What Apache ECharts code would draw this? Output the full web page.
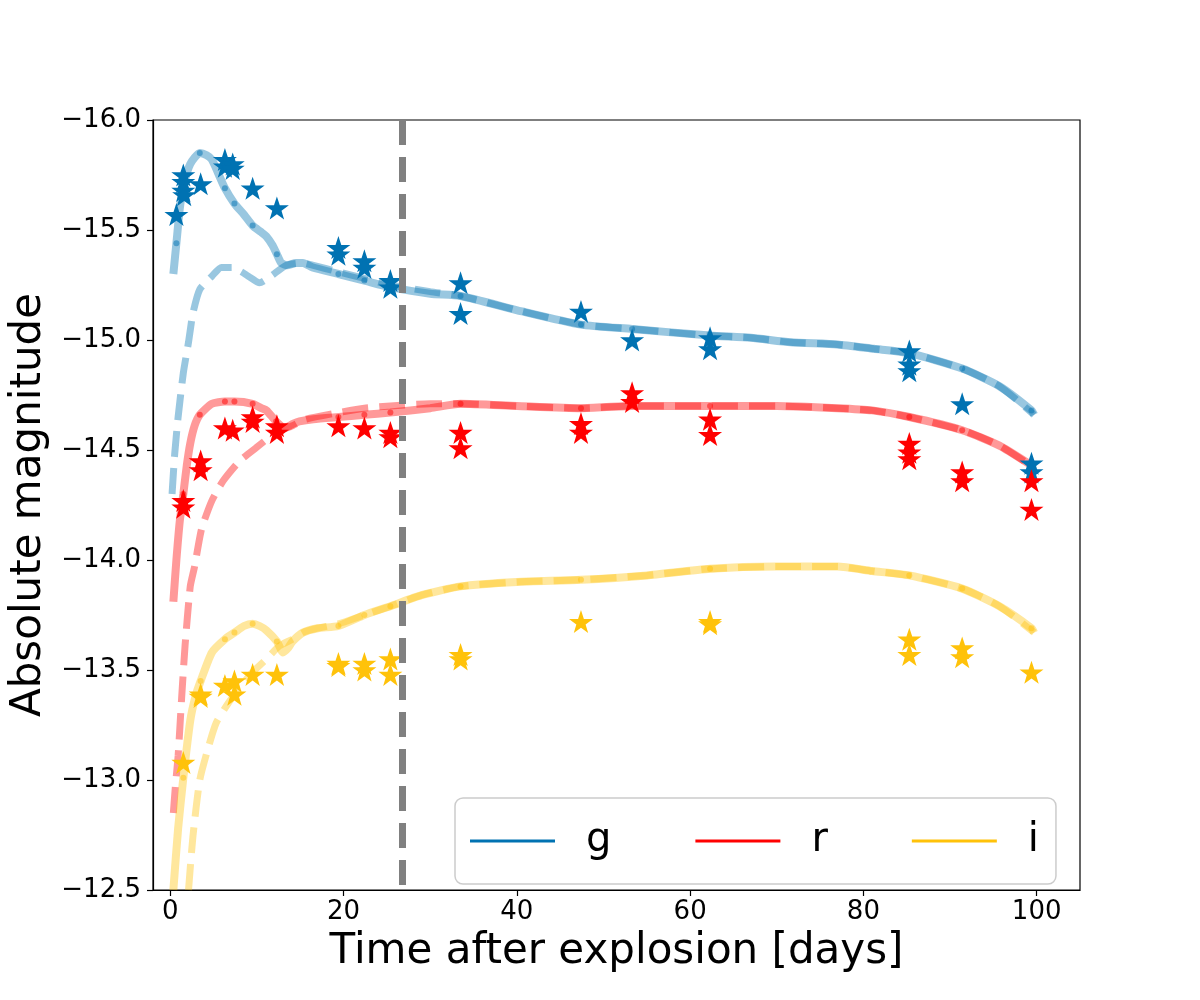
<!DOCTYPE html>
<html>
<head>
<meta charset="utf-8">
<script src="https://cdn.jsdelivr.net/npm/echarts@6/dist/echarts.min.js"></script>
<style>
  html, body { margin: 0; padding: 0; background: #fff; }
  #chart { width: 1200px; height: 1000px; }
</style>
</head>
<body>
<div id="chart"></div>
<script>
// tick values
var xTicks = [0, 20, 40, 60, 80, 100];
var yMin = -16.0, yMax = -12.5, yStep = 0.5;
var tCut = 26.8; // grey dashed vertical line

// observed photometry [day, mag]
var gObs = [[0.7,-15.57],[1.5,-15.75],[1.5,-15.72],[1.5,-15.68],[1.6,-15.66],[3.5,-15.71],
  [6.3,-15.82],[6.3,-15.79],[7.2,-15.80],[7.2,-15.78],[9.5,-15.69],[12.3,-15.60],
  [19.4,-15.42],[19.4,-15.39],[22.4,-15.36],[22.4,-15.33],[25.4,-15.27],[25.4,-15.24],
  [33.5,-15.26],[33.5,-15.12],[47.4,-15.13],[53.3,-15.00],[62.3,-15.01],[62.3,-14.96],
  [85.3,-14.95],[85.3,-14.89],[85.3,-14.86],[91.4,-14.71],[99.4,-14.44],[99.4,-14.40]];
var rObs = [[1.5,-14.27],[1.5,-14.24],[3.5,-14.45],[3.5,-14.41],[6.3,-14.60],[7.2,-14.59],
  [9.5,-14.65],[9.5,-14.63],[12.3,-14.61],[12.3,-14.58],[19.4,-14.61],[22.4,-14.60],
  [25.4,-14.58],[25.4,-14.56],[33.5,-14.58],[33.5,-14.51],[47.4,-14.62],[47.4,-14.58],
  [53.3,-14.76],[53.3,-14.72],[62.3,-14.64],[62.3,-14.57],[85.3,-14.53],[85.3,-14.49],
  [85.3,-14.46],[91.4,-14.40],[91.4,-14.36],[99.4,-14.36],[99.4,-14.23]];
var iObs = [[1.5,-13.08],[3.5,-13.39],[3.5,-13.38],[6.3,-13.43],[7.4,-13.45],[7.4,-13.39],
  [9.5,-13.48],[12.3,-13.48],[19.4,-13.53],[19.4,-13.52],[22.4,-13.53],[22.4,-13.50],
  [25.4,-13.55],[25.4,-13.48],[33.5,-13.57],[33.5,-13.55],[47.4,-13.72],[62.3,-13.72],
  [62.3,-13.71],[85.3,-13.64],[85.3,-13.57],[91.4,-13.60],[91.4,-13.56],[99.4,-13.49]];

// model curves [day, mag, dot?]  (solid = model A, dashed = model B)
var gSolid = [[0.35,-15.30,0],[0.7,-15.44,1],[1.1,-15.60,0],[1.5,-15.70,1],[2.3,-15.80,0],
  [3.4,-15.85,1],[4.2,-15.84,0],[4.8,-15.82,0],[5.5,-15.76,0],[6.3,-15.69,1],[7.4,-15.62,1],
  [8.5,-15.57,0],[9.5,-15.52,1],[10.5,-15.49,0],[11.1,-15.47,0],[11.8,-15.43,0],[12.3,-15.39,1],
  [12.8,-15.35,0],[13.5,-15.34,0],[14.5,-15.35,0],[15.3,-15.35,0],[16.4,-15.33,0],
  [19.4,-15.30,1],[22.4,-15.27,1],[25.4,-15.24,1],[30,-15.21,0],[33.5,-15.20,1],[40.6,-15.13,0],
  [47.4,-15.07,1],[53.3,-15.05,1],[62.3,-15.02,1],[67,-15.01,0],[71.6,-14.99,0],[77,-14.98,0],
  [81.2,-14.96,0],[85.3,-14.94,1],[91.4,-14.87,1],[95.7,-14.79,0],[99.4,-14.68,1],[99.7,-14.66,0]];
var gDashed = [[0.2,-14.30],[0.5,-14.48],[0.9,-14.65],[1.5,-14.85],[2.1,-14.99],[2.6,-15.12],
  [3.4,-15.23],[4.8,-15.29],[5.9,-15.33],[7.2,-15.33],[8.2,-15.31],[9.0,-15.29],[10.3,-15.26],
  [11.6,-15.29],[13.4,-15.34],[15.3,-15.35],[16.4,-15.34],[19.4,-15.31],[22.4,-15.28],
  [25.4,-15.25],[30,-15.22],[33.5,-15.20],[40.6,-15.13],[47.4,-15.07],[53.3,-15.05],
  [62.3,-15.02],[67,-15.01],[71.6,-14.99],[77,-14.98],[81.2,-14.96],[85.3,-14.94],
  [91.4,-14.87],[95.7,-14.79],[99.7,-14.66]];
var rSolid = [[0.35,-13.81,0],[0.7,-14.00,0],[1.1,-14.18,0],[1.5,-14.30,1],[1.9,-14.43,0],
  [2.3,-14.53,0],[2.8,-14.61,0],[3.4,-14.66,1],[4.8,-14.71,0],[6.3,-14.72,1],[7.4,-14.72,1],
  [9.5,-14.71,1],[10.5,-14.69,0],[11.1,-14.68,0],[12.2,-14.63,1],[13.2,-14.60,0],[14.2,-14.62,0],
  [14.9,-14.63,0],[16.5,-14.64,0],[19.4,-14.65,1],[22.4,-14.66,1],[25.4,-14.67,1],[30,-14.69,0],
  [33.5,-14.71,1],[40,-14.70,0],[47.4,-14.69,1],[53.3,-14.70,1],[62.3,-14.70,1],[70,-14.70,0],
  [77,-14.69,0],[81,-14.68,0],[85.3,-14.65,1],[91.4,-14.59,1],[95.7,-14.52,0],[99.4,-14.43,1],
  [99.7,-14.42,0]];
var rDashed = [[0.35,-12.85],[0.6,-12.98],[0.9,-13.11],[1.3,-13.37],[1.7,-13.61],[2.3,-13.88],
  [2.8,-13.97],[3.6,-14.14],[4.8,-14.27],[6.1,-14.36],[8.0,-14.45],[9.9,-14.51],[12.2,-14.58],
  [14.1,-14.61],[15.6,-14.64],[19.4,-14.67],[22.4,-14.69],[25.4,-14.70],[30,-14.71],
  [33.5,-14.71],[40,-14.70],[47.4,-14.69],[53.3,-14.70],[62.3,-14.70],[70,-14.70],[77,-14.69],
  [81,-14.68],[85.3,-14.65],[91.4,-14.59],[95.7,-14.52],[99.7,-14.42]];
var iSolid = [[0.35,-12.50,0],[0.9,-12.78,0],[1.5,-13.01,1],[2.3,-13.27,0],[2.9,-13.38,0],
  [3.5,-13.45,1],[4.8,-13.58,0],[6.3,-13.64,1],[7.4,-13.67,1],[8.5,-13.70,0],[9.5,-13.71,1],
  [10.3,-13.70,0],[11.1,-13.68,0],[12.3,-13.63,1],[13.0,-13.58,0],[13.6,-13.60,0],[14.1,-13.63,0],
  [15.3,-13.67,0],[17,-13.69,0],[19.4,-13.70,1],[22.4,-13.75,1],[25.4,-13.79,1],[29,-13.84,0],
  [33.5,-13.88,1],[40,-13.90,0],[47.4,-13.91,1],[55,-13.93,0],[62.3,-13.96,1],[70,-13.97,0],
  [77,-13.97,0],[81,-13.95,0],[85.3,-13.93,1],[91.4,-13.87,1],[95.7,-13.79,0],[99.4,-13.69,1],
  [99.7,-13.67,0]];
var iDashed = [[2.1,-12.50],[2.6,-12.74],[3.4,-13.00],[4.4,-13.15],[5.3,-13.26],[6.7,-13.35],
  [8.0,-13.42],[9.5,-13.49],[11.1,-13.55],[12.6,-13.61],[14.1,-13.64],[15.3,-13.67],[17,-13.69],
  [19.4,-13.71],[22.4,-13.75],[25.4,-13.79],[29,-13.84],[33.5,-13.88],[40,-13.90],[47.4,-13.91],
  [55,-13.93],[62.3,-13.96],[70,-13.97],[77,-13.97],[81,-13.95],[85.3,-13.93],[91.4,-13.87],
  [95.7,-13.79],[99.7,-13.67]];

var bands = ['g', 'r', 'i'];
var colors = { g: '#0072b2', r: '#ff0000', i: '#ffc20a' };
var starPath = 'path://M50,0 L61.8,35.1 L98.9,35.1 L68.8,56.7 L79.4,91 L50,70 L20.6,91 L31.2,56.7 L1.1,35.1 L38.2,35.1 Z';
var FONT = 'DejaVu Sans';

function minus(v) {
  return (v < 0 ? '\u2212' : '') + Math.abs(v).toFixed(1);
}

function solidSeries(pts, color) {
  return {
    type: 'line', silent: true, symbol: 'none', showSymbol: true, showAllSymbol: true,
    smooth: 0.2,
    data: pts.map(function (p) {
      return p[2] ? { value: [p[0], p[1]], symbol: 'circle', symbolSize: 6 } : { value: [p[0], p[1]] };
    }),
    itemStyle: { color: color, opacity: 0.5, borderWidth: 0 },
    lineStyle: { color: color, width: 8, opacity: 0.4 },
    z: 2
  };
}

function dashedSeries(pts, color) {
  return {
    type: 'line', silent: true, symbol: 'none', data: pts,
    smooth: 0.2,
    lineStyle: { color: color, width: 7, opacity: 0.4, type: [26, 11], cap: 'butt' },
    z: 2
  };
}

function starSeries(pts, color) {
  return {
    type: 'scatter', silent: true, symbol: starPath, symbolSize: [24, 23], data: pts,
    itemStyle: { color: color, opacity: 1 }, z: 3
  };
}

var series = [
  solidSeries(gSolid, colors.g), dashedSeries(gDashed, colors.g),
  solidSeries(rSolid, colors.r), dashedSeries(rDashed, colors.r),
  solidSeries(iSolid, colors.i), dashedSeries(iDashed, colors.i),
  starSeries(gObs, colors.g), starSeries(rObs, colors.r), starSeries(iObs, colors.i),
  {
    type: 'line', silent: true, symbol: 'none', data: [[tCut, yMin], [tCut, yMax]],
    lineStyle: { color: '#808080', width: 7, type: [25, 12], cap: 'butt' }, z: 4
  }
];
// legend-only entries
bands.forEach(function (b) {
  series.push({ name: b, type: 'line', data: [], itemStyle: { color: colors[b] }, lineStyle: { color: colors[b] } });
});

var chart = echarts.init(document.getElementById('chart'), null, { renderer: 'canvas' });
chart.setOption({
  animation: false,
  backgroundColor: '#ffffff',
  textStyle: { fontFamily: FONT },
  grid: { left: 150, right: 120, top: 120, bottom: 110, show: true, borderColor: '#000', borderWidth: 1.2 },
  legend: {
    data: bands,
    left: 455, top: 798,
    orient: 'horizontal',
    icon: 'path://M0,0 L85,0 L85,3 L0,3 Z',
    itemWidth: 85, itemHeight: 3, itemGap: 84,
    selectedMode: false,
    padding: [20, 17, 20, 15],
    borderColor: '#cccccc', borderWidth: 1.5, borderRadius: 8,
    backgroundColor: 'rgba(255,255,255,0.8)',
    textStyle: { fontFamily: FONT, fontSize: 40, color: '#000', lineHeight: 46, padding: [0, 0, 0, 26] }
  },
  xAxis: {
    type: 'value', min: -2, max: 105,
    name: 'Time after explosion [days]', nameLocation: 'middle', nameGap: 41,
    nameTextStyle: { fontFamily: FONT, fontSize: 42, color: '#000' },
    axisLine: { show: true, onZero: false, lineStyle: { color: '#000', width: 1.2 } },
    axisTick: { show: true, customValues: xTicks, length: 6, lineStyle: { color: '#000', width: 1.2 } },
    axisLabel: { customValues: xTicks, margin: 9, fontFamily: FONT, fontSize: 26, color: '#000' },
    splitLine: { show: false }
  },
  yAxis: {
    type: 'value', inverse: true, min: yMin, max: yMax, interval: yStep,
    name: 'Absolute magnitude', nameLocation: 'middle', nameGap: 103, nameRotate: 90,
    nameTextStyle: { fontFamily: FONT, fontSize: 42, color: '#000' },
    axisLine: { show: true, onZero: false, lineStyle: { color: '#000', width: 1.2 } },
    axisTick: { show: true, length: 6, lineStyle: { color: '#000', width: 1.2 } },
    axisLabel: { margin: 12, fontFamily: FONT, fontSize: 26, color: '#000', formatter: minus },
    splitLine: { show: false }
  },
  series: series
});
</script>
</body>
</html>
